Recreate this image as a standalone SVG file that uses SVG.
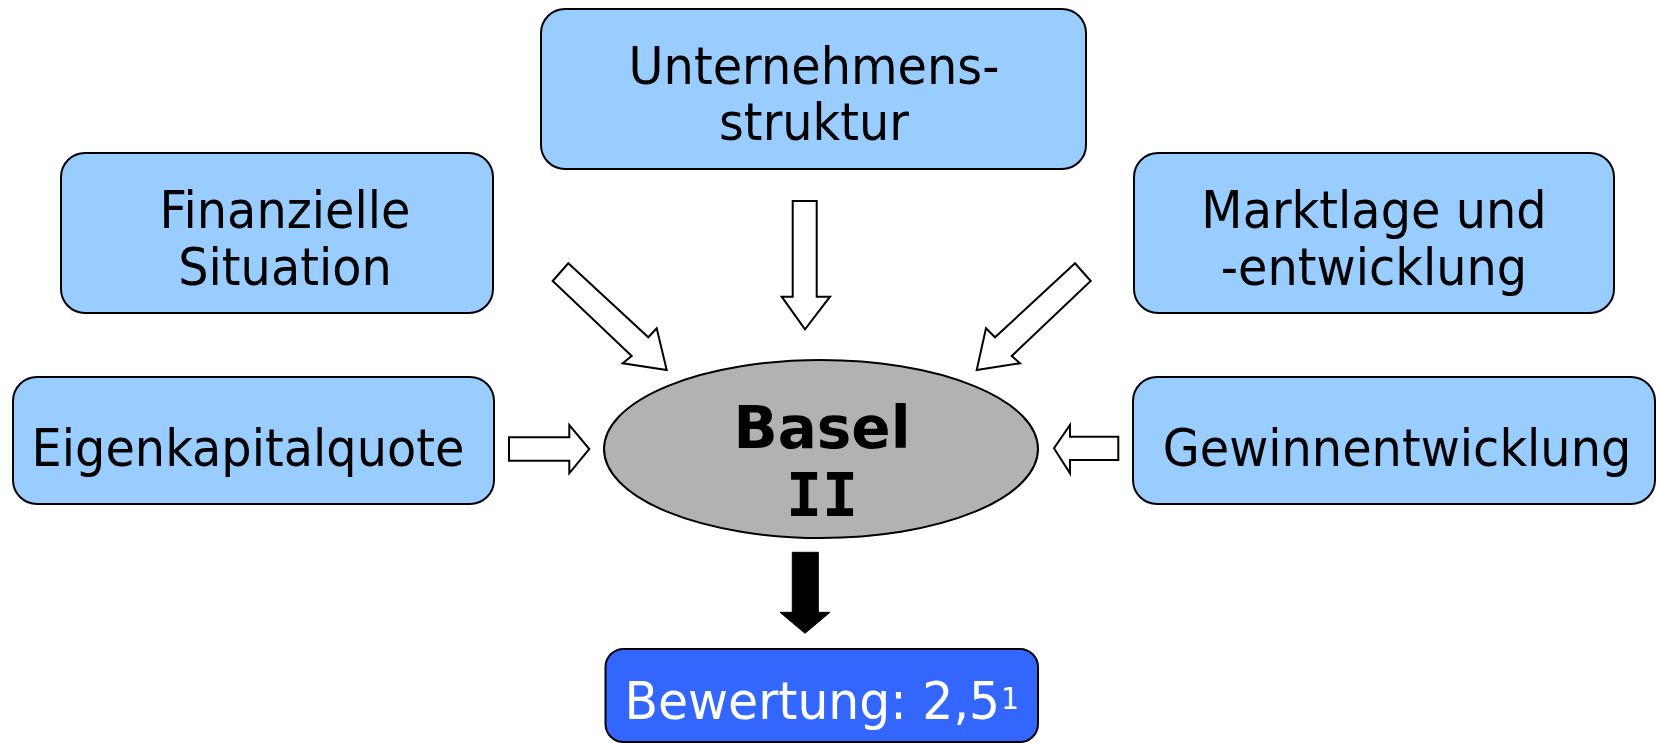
<svg xmlns="http://www.w3.org/2000/svg" width="1657" height="743" viewBox="0 0 1657 743">
<style>
.box{fill:#99CCFF;stroke:#000;stroke-width:2}
.t{font-family:"DejaVu Sans","Verdana",sans-serif;font-size:52px;fill:#000;text-anchor:middle}
.b{font-family:"DejaVu Sans","Verdana",sans-serif;font-size:58px;font-weight:bold;fill:#000;text-anchor:middle}
.ha{fill:#fff;stroke:#000;stroke-width:2;stroke-linejoin:miter}
</style>
<rect width="1657" height="743" fill="#fff"/>
<g id="connectors">
<polygon class="ha" points="792.7,201 816.7,201 816.7,296.7 830,296.7 805,329.3 781.7,296.7 792.7,296.7"/>
<polygon class="ha" points="568.3,263.3 648.3,337.3 656.7,328.3 666.7,370 622.7,363.3 631.7,356 552.7,281"/>
<polygon class="ha" points="1075,263.3 995,337.3 986,328.3 976.7,370 1020,363.3 1011.7,356 1090.7,281"/>
<polygon class="ha" points="509,437.3 569.3,437.3 569.3,425 589.3,449 569.3,473.3 569.3,460.7 509,460.7"/>
<polygon class="ha" points="1118.3,436.7 1070,436.7 1070,425 1054,448.3 1070,473.3 1070,460 1118.3,460"/>
<polygon fill="#000" stroke="#000" stroke-width="1" points="792.3,552.3 818.3,552.3 818.3,612.3 830,612.3 805,633.3 780,612.3 792.3,612.3"/>
</g>
<g id="unternehmensstruktur">
<rect class="box" x="541" y="9" width="545" height="160" rx="24"/>
<g transform="translate(814,0) scale(0.92,1)">
<text class="t" x="0" y="84">Unternehmens-</text>
<text class="t" x="0" y="140">struktur</text>
</g>
</g>
<g id="finanzielle-situation">
<rect class="box" x="61" y="153" width="432" height="160" rx="24"/>
<g transform="translate(285,0) scale(0.92,1)">
<text class="t" x="0" y="228">Finanzielle</text>
<text class="t" x="0" y="285">Situation</text>
</g>
</g>
<g id="marktlage">
<rect class="box" x="1134" y="153" width="480" height="160" rx="24"/>
<g transform="translate(1374,0) scale(0.92,1)">
<text class="t" x="0" y="228">Marktlage und</text>
<text class="t" x="0" y="285">-entwicklung</text>
</g>
</g>
<g id="eigenkapitalquote">
<rect class="box" x="13" y="377" width="481" height="127" rx="24"/>
<g transform="translate(248,0) scale(0.92,1)">
<text class="t" x="0" y="466">Eigenkapitalquote</text>
</g>
</g>
<g id="gewinnentwicklung">
<rect class="box" x="1133" y="377" width="522" height="127" rx="24"/>
<g transform="translate(1397,0) scale(0.92,1)">
<text class="t" x="0" y="466">Gewinnentwicklung</text>
</g>
</g>
<g id="basel">
<ellipse cx="821" cy="449" rx="217" ry="89" fill="#B2B2B2" stroke="#000" stroke-width="2"/>
<text class="b" x="822" y="448">Basel</text>
<text class="b" x="822" y="516" style="font-family:'DejaVu Sans Mono',monospace;font-size:60px">II</text>
</g>
<g id="bewertung">
<rect x="605.5" y="649" width="432.5" height="93" rx="18" fill="#3366FF" stroke="#000" stroke-width="2"/>
<g transform="translate(624.5,0) scale(0.94,1)">
<text x="0" y="719" font-family="DejaVu Sans, Verdana, sans-serif" font-size="52" fill="#fff">Bewertung: 2,5<tspan font-size="30" dx="1" dy="-10">1</tspan></text>
</g>
</g>
</svg>
